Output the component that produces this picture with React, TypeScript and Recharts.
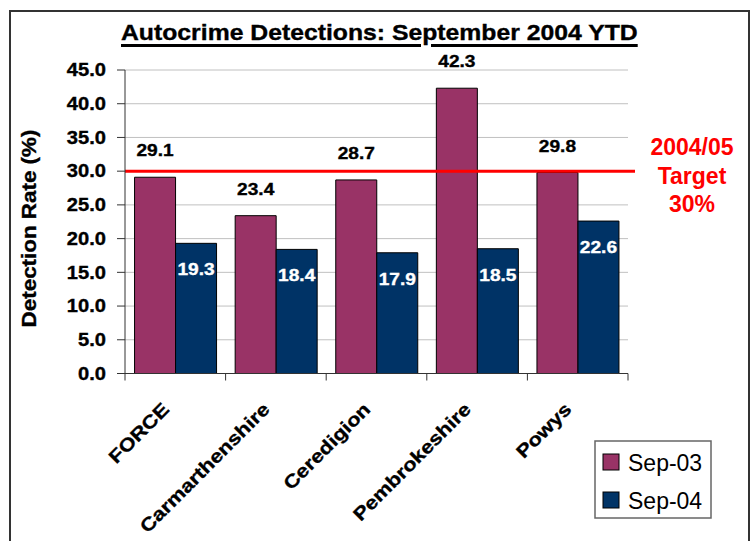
import { BarChart, Bar, XAxis, YAxis, CartesianGrid, ReferenceLine, LabelList } from 'recharts';

const categories = ['FORCE', 'Carmarthenshire', 'Ceredigion', 'Pembrokeshire', 'Powys'];
const sep03 = [29.1, 23.4, 28.7, 42.3, 29.8];
const sep04 = [19.3, 18.4, 17.9, 18.5, 22.6];
const seriesNames = ['Sep-03', 'Sep-04'];
const seriesColors = ['#993366', '#003366'];
const yTicks = [0, 5, 10, 15, 20, 25, 30, 35, 40, 45];
const targetValue = 30;
const targetLines = ['2004/05', 'Target', '30%'];
const title = 'Autocrime Detections: September 2004 YTD';
const yLabel = 'Detection Rate (%)';

const data = categories.map((name, i) => ({ name, sep03: sep03[i], sep04: sep04[i] }));

const W = 754;
const H = 541;
const margin = { top: 70, right: 126, bottom: 67.5, left: 60 };
const Y_AXIS_W = 65;
const BAND = (W - margin.left - Y_AXIS_W - margin.right) / categories.length;
const FONT = "'Liberation Sans', Arial, sans-serif";

const fmt = (v: number) => Number(v).toFixed(1);

// text that is a bit wider and heavier than the font, like the Excel original
function WideText(props: any) {
  const { x, y, sx = 1, angle = 0, anchor = 'start', size, weight = 'bold', fill = '#000', children } = props;
  return (
    <text
      transform={`translate(${x},${y}) rotate(${angle}) scale(${sx},1)`}
      textAnchor={anchor}
      fontSize={size}
      fontWeight={weight}
      fontFamily={FONT}
      fill={fill}
      stroke={fill}
      strokeWidth={0.35}
    >
      {children}
    </text>
  );
}

function YTick(props: any) {
  const { x, y, payload } = props;
  return (
    <WideText x={x} y={y + 6.3} sx={1.15} size={17.5} anchor="end">
      {fmt(payload.value)}
    </WideText>
  );
}

function CategoryTick(props: any) {
  const { x, y, payload, index } = props;
  const half = BAND / 2;
  return (
    <g>
      <line x1={x - half} y1={y} x2={x - half} y2={y + 7} stroke="#333" />
      {index === categories.length - 1 && <line x1={x + half} y1={y} x2={x + half} y2={y + 7} stroke="#333" />}
      <WideText x={x - 5} y={y + 37} angle={-45} sx={1.18} size={18.5} anchor="end">
        {payload.value}
      </WideText>
    </g>
  );
}

function box(props: any) {
  const vb = props.viewBox || {};
  return {
    x: props.x ?? vb.x,
    y: props.y ?? vb.y,
    width: props.width ?? vb.width,
  };
}

function AboveLabel(props: any) {
  const { x, y, width } = box(props);
  return (
    <WideText x={x + width / 2} y={y - 21} sx={1.16} size={16.5} anchor="middle">
      {fmt(props.value)}
    </WideText>
  );
}

function InsideLabel(props: any) {
  const { x, y, width } = box(props);
  return (
    <WideText x={x + width / 2} y={y + 32} sx={1.16} size={16.5} anchor="middle" fill="#fff">
      {fmt(props.value)}
    </WideText>
  );
}

function TargetLine(props: any) {
  const { x1, y1, x2, y2 } = props;
  return <line x1={x1} y1={y1} x2={x2 + 7} y2={y2} stroke="#ff0000" strokeWidth={3} />;
}

export default function App() {
  return (
    <div style={{ position: 'relative', width: W, height: H, overflow: 'hidden', background: '#fff' }}>
      <style>{'body{margin:0;overflow:hidden}'}</style>
      <div
        style={{
          position: 'absolute',
          left: 9,
          top: 10,
          width: 741,
          height: 600,
          border: '2px solid #333',
          boxSizing: 'border-box',
        }}
      />
      <BarChart
        width={W}
        height={H}
        data={data}
        margin={margin}
        barCategoryGap="9.5%"
        barGap={0}
        style={{ position: 'absolute', left: 0, top: 0 }}
      >
        <CartesianGrid vertical={false} stroke="#c0c0c0" />
        <XAxis
          dataKey="name"
          interval={0}
          height={100}
          tickLine={false}
          tickSize={0}
          tickMargin={0}
          axisLine={{ stroke: '#333' }}
          tick={<CategoryTick />}
        />
        <YAxis
          width={Y_AXIS_W}
          domain={[0, 45]}
          ticks={yTicks}
          interval={0}
          tickSize={8}
          tickMargin={11}
          axisLine={{ stroke: '#333' }}
          tickLine={{ stroke: '#333' }}
          tick={<YTick />}
        />
        <YAxis
          yAxisId="frame"
          orientation="right"
          width={0}
          domain={[0, 45]}
          tick={false}
          tickLine={false}
          axisLine={{ stroke: '#a0a0a0' }}
        />
        <Bar dataKey="sep03" name={seriesNames[0]} fill={seriesColors[0]} stroke="#000" strokeWidth={1} isAnimationActive={false}>
          <LabelList dataKey="sep03" content={<AboveLabel />} />
        </Bar>
        <Bar dataKey="sep04" name={seriesNames[1]} fill={seriesColors[1]} stroke="#000" strokeWidth={1} isAnimationActive={false}>
          <LabelList dataKey="sep04" content={<InsideLabel />} />
        </Bar>
        <ReferenceLine y={targetValue} stroke="#ff0000" strokeWidth={3} shape={<TargetLine />} />
      </BarChart>

      <div
        style={{
          position: 'absolute',
          left: 121,
          top: 22,
          fontFamily: FONT,
          fontSize: 22,
          fontWeight: 'bold',
          lineHeight: 1,
          whiteSpace: 'nowrap',
          transform: 'scaleX(1.125)',
          transformOrigin: 'left top',
          textDecoration: 'underline',
          textDecorationThickness: '3px',
          textUnderlineOffset: '4px',
          WebkitTextStroke: '0.35px #000',
        }}
      >
        {title}
      </div>

      <svg width={W} height={H} style={{ position: 'absolute', left: 0, top: 0, pointerEvents: 'none' }}>
        <WideText x={36} y={228.5} angle={-90} sx={1.12} size={20} anchor="middle">
          {yLabel}
        </WideText>
        {targetLines.map((line, i) => (
          <text
            key={line}
            x={692}
            y={155 + i * 28.5}
            textAnchor="middle"
            fontSize={23}
            fontWeight="bold"
            fontFamily={FONT}
            fill="#ff0000"
          >
            {line}
          </text>
        ))}
        <rect x={595} y={441} width={116} height={77} fill="#fff" stroke="#666" strokeWidth={1.5} />
        {seriesNames.map((name, i) => (
          <g key={name}>
            <rect x={603} y={454 + i * 38} width={16} height={16} fill={seriesColors[i]} stroke="#000" />
            <text x={628} y={471 + i * 37.5} fontSize={23} fontFamily={FONT} fill="#000">
              {name}
            </text>
          </g>
        ))}
      </svg>
    </div>
  );
}
